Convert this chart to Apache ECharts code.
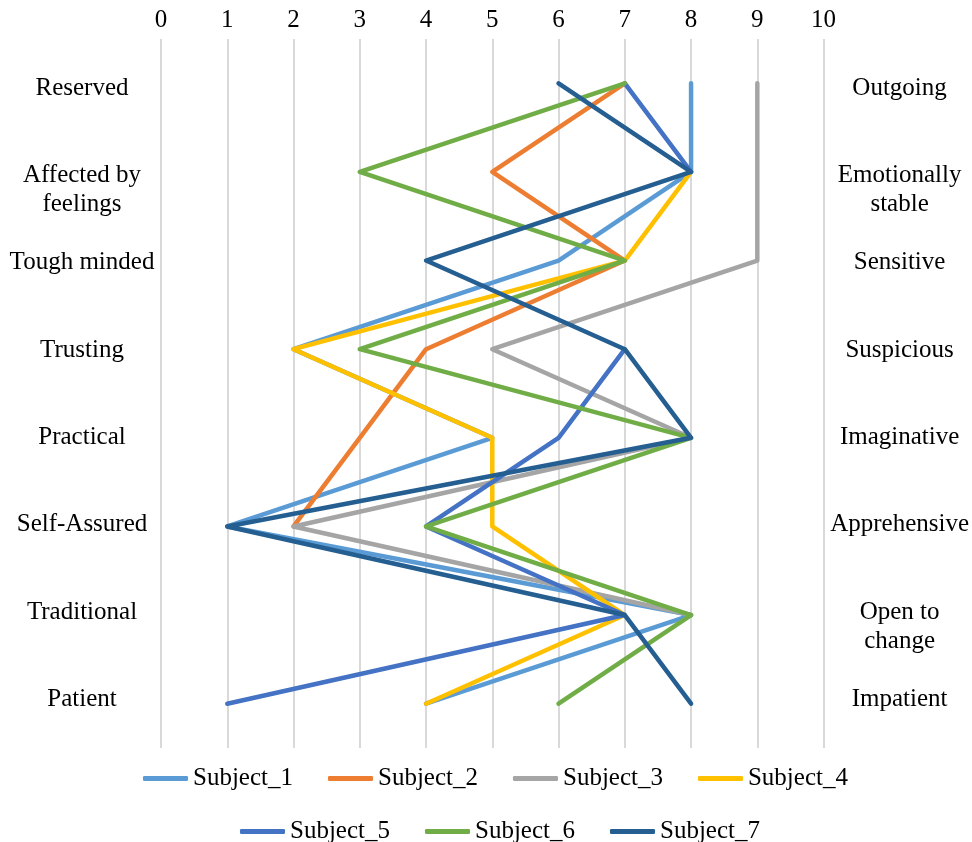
<!DOCTYPE html>
<html>
<head>
<meta charset="utf-8">
<script src="https://cdn.jsdelivr.net/npm/echarts@6/dist/echarts.min.js"></script>
<style>
html,body{margin:0;padding:0;background:#fff;}
#c{width:972px;height:842px;}
</style>
</head>
<body>
<div id="c"></div>
<script>
const leftLabels = ['Reserved','Affected by\nfeelings','Tough minded','Trusting','Practical','Self-Assured','Traditional','Patient'];
const rightLabels = ['Outgoing','Emotionally\nstable','Sensitive','Suspicious','Imaginative','Apprehensive','Open to\nchange','Impatient'];
const seriesNames = ['Subject_1','Subject_2','Subject_3','Subject_4','Subject_5','Subject_6','Subject_7'];
const subject1 = [8, 8, 6, 2, 5, 1, 8, 4];
const subject2 = [7, 5, 7, 4, 3, 2, null, null];
const subject3 = [9, 9, 9, 5, 8, 2, 8, null];
const subject4 = [null, 8, 7, 2, 5, 5, 7, 4];
const subject5 = [7, 8, null, 7, 6, 4, 7, 1];
const subject6 = [7, 3, 7, 3, 8, 4, 8, 6];
const subject7 = [6, 8, 4, 7, 8, 1, 7, 8];
const xTicks = [0,1,2,3,4,5,6,7,8,9,10];
const colors = ['#5B9BD5','#ED7D31','#A5A5A5','#FFC000','#4472C4','#70AD47','#255E91'];
const allData = [subject1, subject2, subject3, subject4, subject5, subject6, subject7];

const FONT = 'Liberation Serif';
const FS = 25;
const LH = 29;

// label vertical nudge (px) so text sits where the original placed it
function nudge(index, multi) {
  return 4.7 - 1.3 * index + (multi ? LH / 2 : 0);
}
const rich = {t: {fontFamily: FONT, fontSize: FS, lineHeight: LH, color: '#000'}};
for (let i = 0; i < 8; i++) {
  [false, true].forEach(m => {
    const off = nudge(i, m);
    rich['p' + i + (m ? 'm' : 's')] = {fontSize: 1, lineHeight: Math.max(0.01, Math.abs(2 * off))};
  });
}
function fmt(v, index) {
  const multi = v.indexOf('\n') >= 0;
  const off = nudge(index, multi);
  const pad = '{p' + index + (multi ? 'm' : 's') + '| }';
  const body = v.split('\n').map(l => '{t|' + l + '}').join('\n');
  return off >= 0 ? pad + '\n' + body : body + '\n' + pad;
}

const chart = echarts.init(document.getElementById('c'), null, {renderer:'canvas'});
const legendText = {color: '#000', fontFamily: FONT, fontSize: FS};
chart.setOption({
  animation: false,
  color: colors,
  textStyle: {fontFamily: FONT},
  grid: {left: 161, right: 148, top: 39, bottom: 94, containLabel: false},
  xAxis: {
    type: 'value', position: 'top', min: xTicks[0], max: xTicks[xTicks.length-1], interval: 1,
    axisLine: {show: false}, axisTick: {show: false},
    splitLine: {show: true, lineStyle: {color: '#D9D9D9', width: 2}},
    axisLabel: {color: '#000', fontFamily: FONT, fontSize: FS, margin: 6}
  },
  yAxis: [{
    type: 'category', data: leftLabels, inverse: true, position: 'left',
    axisLine: {show: false}, axisTick: {show: false}, splitLine: {show: false},
    axisLabel: {color: '#000', fontFamily: FONT, fontSize: FS, align: 'center', margin: 79,
      formatter: fmt, rich: rich, interval: 0}
  },{
    type: 'category', data: rightLabels, inverse: true, position: 'right',
    axisLine: {show: false}, axisTick: {show: false}, splitLine: {show: false},
    axisLabel: {color: '#000', fontFamily: FONT, fontSize: FS, align: 'center', margin: 76,
      formatter: fmt, rich: rich, interval: 0}
  }],
  legend: [{
    data: seriesNames.slice(0,4), left: 143, top: 766, padding: 0, itemWidth: 45, itemHeight: 5, itemGap: 35,
    icon: 'roundRect', textStyle: legendText
  },{
    data: seriesNames.slice(4), left: 240, top: 819, padding: 0, itemWidth: 45, itemHeight: 5, itemGap: 35,
    icon: 'roundRect', textStyle: legendText
  }],
  series: seriesNames.map((n,i) => ({
    name: n, type: 'line', data: allData[i], yAxisIndex: 0, symbol: 'none', showSymbol: false,
    connectNulls: false,
    lineStyle: {width: 4.5, color: colors[i], cap: 'round', join: 'round'},
    itemStyle: {color: colors[i]}
  }))
});
</script>
</body>
</html>
